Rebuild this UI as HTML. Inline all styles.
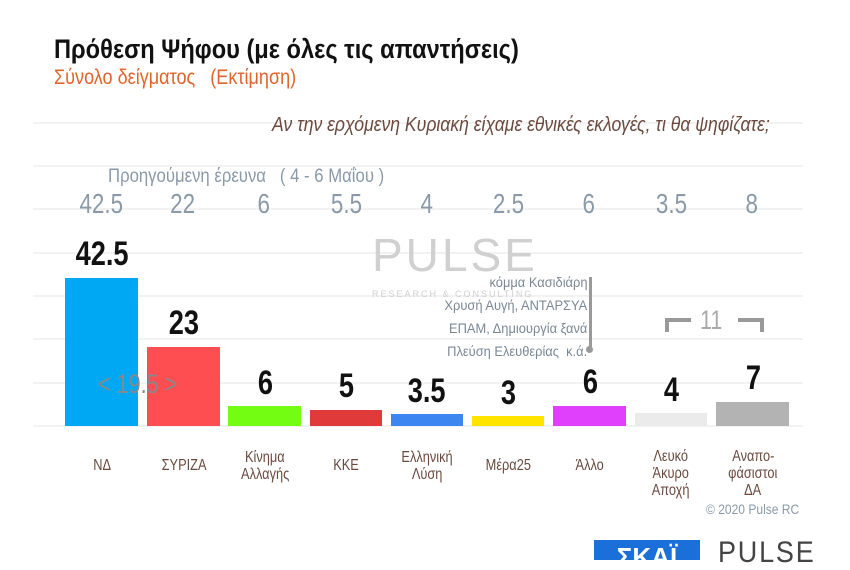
<!DOCTYPE html>
<html><head><meta charset="utf-8">
<style>
body{margin:0;width:850px;height:560px;background:#fff;overflow:hidden;position:relative;font-family:"Liberation Sans",sans-serif;}
.a{position:absolute;white-space:nowrap}
.s{display:inline-block;transform:scaleX(.8);transform-origin:left center}
.m{display:inline-block;transform:scaleX(.8);transform-origin:center center}
.r{display:inline-block;transform:scaleX(.92);transform-origin:right center}
.g{position:absolute;left:33px;width:770px;height:2px;background:#f2f2f2}
.bar{position:absolute}
.v{position:absolute;font-weight:bold;font-size:34px;color:#111;text-align:center;width:90px}
.p{position:absolute;font-size:28px;color:#8a9aa8;text-align:center;width:80px;top:188px}
.c{position:absolute;font-size:16px;color:#6b4a3e;text-align:center;width:90px;line-height:17px}
</style></head><body>
<div class="a" style="left:54px;top:34px;font-size:27px;font-weight:bold;color:#111"><span class="s" style="transform:scaleX(.875)">Πρόθεση Ψήφου (με όλες τις απαντήσεις)</span></div>
<div class="a" style="left:54px;top:66px;font-size:21px;color:#e0652c"><span class="s" style="transform:scaleX(.86)">Σύνολο δείγματος &nbsp;&nbsp;(Εκτίμηση)</span></div>
<div class="g" style="top:122px"></div>
<div class="g" style="top:165px"></div>
<div class="g" style="top:208px"></div>
<div class="g" style="top:252px"></div>
<div class="g" style="top:295px"></div>
<div class="g" style="top:338px"></div>
<div class="g" style="top:382px"></div>
<div class="g" style="top:425px"></div>
<div class="a" style="left:272px;top:114px;font-size:20px;font-style:italic;color:#6b4a3e"><span class="s" style="transform:scaleX(.88)">Αν την ερχόμενη Κυριακή είχαμε εθνικές εκλογές, τι θα ψηφίζατε;</span></div>
<div class="a" style="left:108px;top:166px;font-size:19px;color:#8a9aa8"><span class="s" style="transform:scaleX(.88)">Προηγούμενη έρευνα &nbsp;&nbsp;( 4 - 6 Μαΐου )</span></div>
<div class="p" style="left:61px"><span class="m">42.5</span></div>
<div class="p" style="left:143px"><span class="m">22</span></div>
<div class="p" style="left:224px"><span class="m">6</span></div>
<div class="p" style="left:306px"><span class="m">5.5</span></div>
<div class="p" style="left:387px"><span class="m">4</span></div>
<div class="p" style="left:468px"><span class="m">2.5</span></div>
<div class="p" style="left:549px"><span class="m">6</span></div>
<div class="p" style="left:631px"><span class="m">3.5</span></div>
<div class="p" style="left:712px"><span class="m">8</span></div>
<div class="a" style="left:372px;top:228px;font-size:46px;color:#d0d0d0;letter-spacing:3px">PULSE</div>
<div class="a" style="left:372px;top:289px;font-size:9px;color:#d0d0d0;letter-spacing:2px">RESEARCH &amp; CONSULTING</div>
<div class="a" style="left:380px;top:271px;width:207px;text-align:right;font-size:14px;color:#7a8896;line-height:23px"><span class="r">κόμμα Κασιδιάρη</span><br><span class="r">Χρυσή Αυγή, ΑΝΤΑΡΣΥΑ</span><br><span class="r">ΕΠΑΜ, Δημιουργία ξανά</span><br><span class="r">Πλεύση Ελευθερίας &nbsp;κ.ά.</span></div>
<div class="a" style="left:589px;top:277px;width:3px;height:72px;background:#999"></div>
<div class="a" style="left:586px;top:346px;width:7px;height:7px;border-radius:50%;background:#999"></div>
<div class="a" style="left:665px;top:318px;width:26px;height:14px;border-top:4px solid #999;border-left:4px solid #999;box-sizing:border-box"></div>
<div class="a" style="left:738px;top:318px;width:26px;height:14px;border-top:4px solid #999;border-right:4px solid #999;box-sizing:border-box"></div>
<div class="a" style="left:700px;top:305px;font-size:27px;color:#aaa"><span class="s">11</span></div>
<div class="bar" style="left:65px;top:278px;width:73px;height:148px;background:#00a8f3"></div>
<div class="bar" style="left:147px;top:347px;width:73px;height:79px;background:#fe4e51"></div>
<div class="bar" style="left:228px;top:406px;width:73px;height:20px;background:#72fd12"></div>
<div class="bar" style="left:310px;top:410px;width:72px;height:16px;background:#e03a3a"></div>
<div class="bar" style="left:391px;top:414px;width:72px;height:12px;background:#3b86f0"></div>
<div class="bar" style="left:472px;top:416px;width:72px;height:10px;background:#ffe400"></div>
<div class="bar" style="left:553px;top:406px;width:73px;height:20px;background:#e040fb"></div>
<div class="bar" style="left:635px;top:413px;width:72px;height:13px;background:#ebebeb"></div>
<div class="bar" style="left:716px;top:402px;width:73px;height:24px;background:#b3b3b3"></div>
<div class="a" style="left:98px;top:369px;font-size:27px;color:#888"><span class="s">&lt; 19.5 &gt;</span></div>
<div class="v" style="left:57px;top:235px"><span class="m">42.5</span></div>
<div class="v" style="left:139px;top:304px"><span class="m">23</span></div>
<div class="v" style="left:220px;top:364px"><span class="m">6</span></div>
<div class="v" style="left:301px;top:367px"><span class="m">5</span></div>
<div class="v" style="left:382px;top:372px"><span class="m">3.5</span></div>
<div class="v" style="left:463px;top:374px"><span class="m">3</span></div>
<div class="v" style="left:545px;top:363px"><span class="m">6</span></div>
<div class="v" style="left:626px;top:371px"><span class="m">4</span></div>
<div class="v" style="left:708px;top:359px"><span class="m">7</span></div>
<div class="c" style="left:57px;top:457px"><span class="m">ΝΔ</span></div>
<div class="c" style="left:139px;top:457px"><span class="m">ΣΥΡΙΖΑ</span></div>
<div class="c" style="left:220px;top:449px"><span class="m">Κίνημα</span><br><span class="m">Αλλαγής</span></div>
<div class="c" style="left:301px;top:457px"><span class="m">ΚΚΕ</span></div>
<div class="c" style="left:382px;top:449px"><span class="m">Ελληνική</span><br><span class="m">Λύση</span></div>
<div class="c" style="left:463px;top:457px"><span class="m">Μέρα25</span></div>
<div class="c" style="left:545px;top:457px"><span class="m">Άλλο</span></div>
<div class="c" style="left:626px;top:448px"><span class="m">Λευκό</span><br><span class="m">Άκυρο</span><br><span class="m">Αποχή</span></div>
<div class="c" style="left:708px;top:448px"><span class="m">Αναπο-</span><br><span class="m">φάσιστοι</span><br><span class="m">ΔΑ</span></div>
<div class="a" style="left:706px;top:501px;font-size:14px;color:#8a9aa8"><span class="s" style="transform:scaleX(.86)">© 2020 Pulse RC</span></div>
<div class="a" style="left:594px;top:540px;width:106px;height:20px;background:#1b6fd8;color:#fff;font-size:26px;font-weight:bold;text-align:center;line-height:34px;overflow:hidden">ΣΚΑΪ</div>
<div class="a" style="left:718px;top:536px;font-size:30px;color:#444;letter-spacing:2px"><span class="s" style="transform:scaleX(.9)">PULSE</span></div>
</body></html>
